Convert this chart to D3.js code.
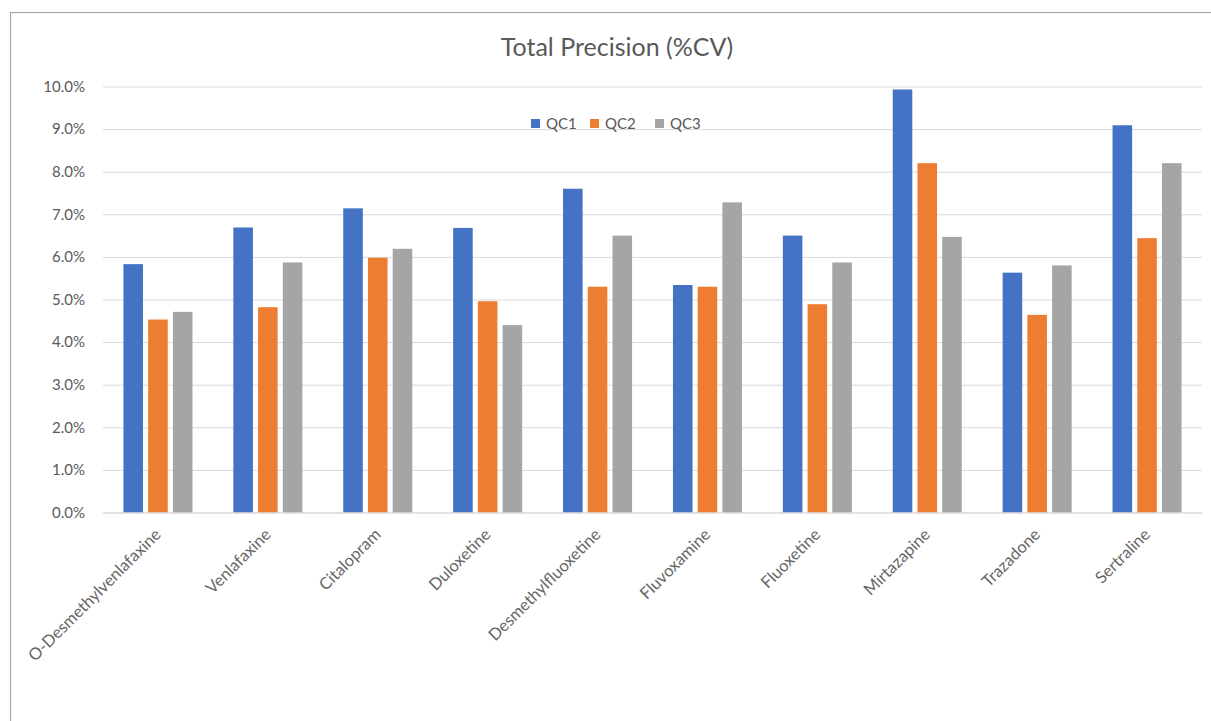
<!DOCTYPE html>
<html><head><meta charset="utf-8">
<script src="https://cdn.jsdelivr.net/npm/d3@7"></script>
<style>body{margin:0;background:#fff;} text{font-family:Lato,"Open Sans",sans-serif;}</style>
</head><body><svg id="c" width="1211" height="721"></svg>
<script>
const categories = ["O-Desmethylvenlafaxine","Venlafaxine","Citalopram","Duloxetine","Desmethylfluoxetine","Fluvoxamine","Fluoxetine","Mirtazapine","Trazadone","Sertraline"];
const seriesNames = ["QC1","QC2","QC3"];
const qc1 = [5.83,6.69,7.14,6.68,7.60,5.34,6.50,9.93,5.63,9.09];
const qc2 = [4.53,4.82,5.98,4.96,5.30,5.30,4.89,8.20,4.64,6.44];
const qc3 = [4.71,5.87,6.19,4.40,6.50,7.28,5.87,6.47,5.80,8.20];
const yTicks = [0,1,2,3,4,5,6,7,8,9,10];
const colors = ["#4472C4","#ED7D31","#A5A5A5"];
const series = [qc1,qc2,qc3];

const svg = d3.select("#c");
svg.append("rect").attr("x",10.5).attr("y",12.5).attr("width",1240).attr("height",760)
  .attr("fill","#fff").attr("stroke","#a6a6a6").attr("stroke-width",1.2);

const pLeft=103, pRight=1202, pTop=86.5, pBottom=512.5;
const x0 = d3.scaleBand().domain(categories).range([pLeft,pRight]).padding(0);
const y = d3.scaleLinear().domain([0,10]).range([pBottom,pTop]);
const bw = x0.bandwidth();
const barW = bw*0.178, gap = bw*0.047;
const groupW = 3*barW+2*gap;
const x1 = d3.scaleBand().domain(seriesNames).range([0,groupW]).paddingInner(gap/(barW+gap)).paddingOuter(0);

// gridlines
const yAxis = d3.axisLeft(y).tickValues(yTicks).tickSize(-(pRight-pLeft)).tickFormat(d=>d.toFixed(1)+"%");
const ga = svg.append("g").attr("transform",`translate(${pLeft},0)`).call(yAxis);
ga.select(".domain").remove();
ga.selectAll(".tick line").attr("stroke","#d9d9d9").attr("stroke-width",1);
ga.selectAll(".tick text").attr("x",-18).attr("fill","#595959").attr("font-size",15);

// bars
const g = svg.append("g");
categories.forEach((c,i)=>{
  seriesNames.forEach((s,j)=>{
    const v = series[j][i];
    g.append("rect")
      .attr("x", x0(c)+(bw-groupW)/2 + x1(s))
      .attr("width", x1.bandwidth())
      .attr("y", y(v))
      .attr("height", y(0)-y(v))
      .attr("fill", colors[j]);
  });
});

// x axis
const xAxis = d3.axisBottom(x0).tickSize(0).tickPadding(0);
const gx = svg.append("g").attr("transform",`translate(0,${pBottom})`).call(xAxis);
gx.select(".domain").attr("stroke","#d9d9d9");
gx.selectAll(".tick text")
  .attr("text-anchor","end").attr("fill","#666666").attr("font-size",16.5)
  .attr("dy",0).attr("y",0)
  .attr("transform","translate(4,23) rotate(-45)");

// title
svg.append("text").attr("x",617).attr("y",56).attr("text-anchor","middle")
  .attr("font-size",25).attr("fill","#595959").text("Total Precision (%CV)");

// legend
const legX = [531,590,655];
const lg = svg.append("g");
seriesNames.forEach((s,j)=>{
  lg.append("rect").attr("x",legX[j]).attr("y",119).attr("width",9).attr("height",9).attr("fill",colors[j]);
  lg.append("text").attr("x",legX[j]+15).attr("y",129).attr("font-size",15).attr("fill","#595959").text(s);
});
</script></body></html>
